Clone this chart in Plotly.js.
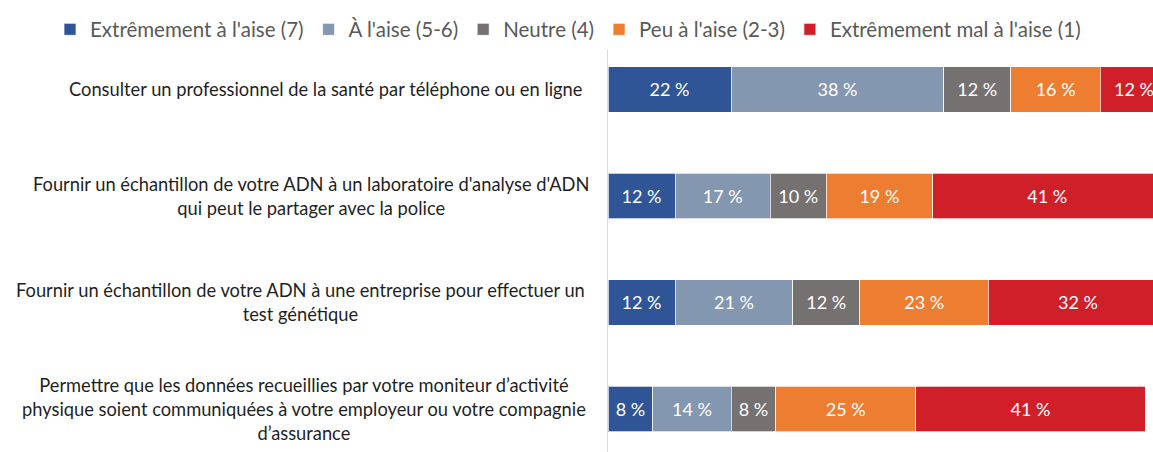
<!DOCTYPE html>
<html>
<head>
<meta charset="utf-8">
<script src="https://cdn.plot.ly/plotly-3.0.1.min.js"></script>
<style>html,body{margin:0;padding:0;background:#fff;}#chart{width:1153px;height:452px;}</style>
</head>
<body>
<div id="chart"></div>
<script>
const categories = [
  "Consulter un professionnel de la santé par téléphone ou en ligne",
  "Fournir un échantillon de votre ADN à un laboratoire d'analyse d'ADN<br>qui peut le partager avec la police",
  "Fournir un échantillon de votre ADN à une entreprise pour effectuer un<br>test génétique",
  "Permettre que les données recueillies par votre moniteur d’activité<br>physique soient communiquées à votre employeur ou votre compagnie<br>d’assurance"
];
const seriesNames = ["Extrêmement à l'aise (7)", "À l'aise (5-6)", "Neutre (4)", "Peu à l'aise (2-3)", "Extrêmement mal à l'aise (1)"];
const extremementAlaise = [22, 12, 12, 8];
const alaise = [38, 17, 21, 14];
const neutre = [12, 10, 12, 8];
const peuAlaise = [16, 19, 23, 25];
const extremementMal = [12, 41, 32, 41];
const colors = ["#2F5597", "#8497B0", "#767171", "#ED7D31", "#CF2029"];

const FONT = "Lato, 'Open Sans', sans-serif";
const PLOT_LEFT = 608, PLOT_W = 545;
const labelCenterPx = [325, 311, 300, 304];

const allSeries = [extremementAlaise, alaise, neutre, peuAlaise, extremementMal];
const idx = categories.map((c, i) => i);
const traces = allSeries.map((vals, k) => ({
  type: "bar",
  orientation: "h",
  name: seriesNames[k],
  y: idx,
  x: vals,
  width: 0.43,
  marker: {color: colors[k], line: {color: "rgba(255,255,255,0.7)", width: 1}},
  texttemplate: "%{x} %",
  textposition: "inside",
  insidetextanchor: "middle",
  constraintext: "none",
  textfont: {family: FONT, size: 18, color: "#ffffff"},
  hoverinfo: "skip"
}));

const annotations = categories.map((c, i) => ({
  xref: "paper", yref: "y",
  x: (labelCenterPx[i] - PLOT_LEFT) / PLOT_W, y: i,
  xanchor: "center", yanchor: "middle",
  align: "center",
  text: c,
  showarrow: false,
  font: {family: FONT, size: 18.3, color: "#1f1f1f"}
}));

const layout = {
  width: 1153, height: 452,
  margin: {l: PLOT_LEFT, r: 0, t: 36, b: 0, pad: 0, autoexpand: false},
  barmode: "stack",
  paper_bgcolor: "#ffffff",
  plot_bgcolor: "#ffffff",
  showlegend: true,
  legend: {
    orientation: "h",
    xref: "paper", yref: "paper",
    x: (50 - PLOT_LEFT) / PLOT_W, xanchor: "left",
    y: 1 + (36 - 29.5) / 416, yanchor: "middle",
    font: {family: FONT, size: 20.5, color: "#595959"},
    traceorder: "normal",
    itemclick: false
  },
  xaxis: {range: [0, 97.4], showgrid: false, zeroline: false, showline: false, showticklabels: false, ticks: "", fixedrange: true},
  yaxis: {
    type: "linear",
    range: [3.404, -0.502],
    showgrid: false, zeroline: false, showticklabels: false, ticks: "",
    showline: true, linecolor: "#D9D9D9", linewidth: 1
  },
  annotations: annotations
};

Plotly.newPlot("chart", traces, layout, {staticPlot: true, displayModeBar: false});
</script>
</body>
</html>
